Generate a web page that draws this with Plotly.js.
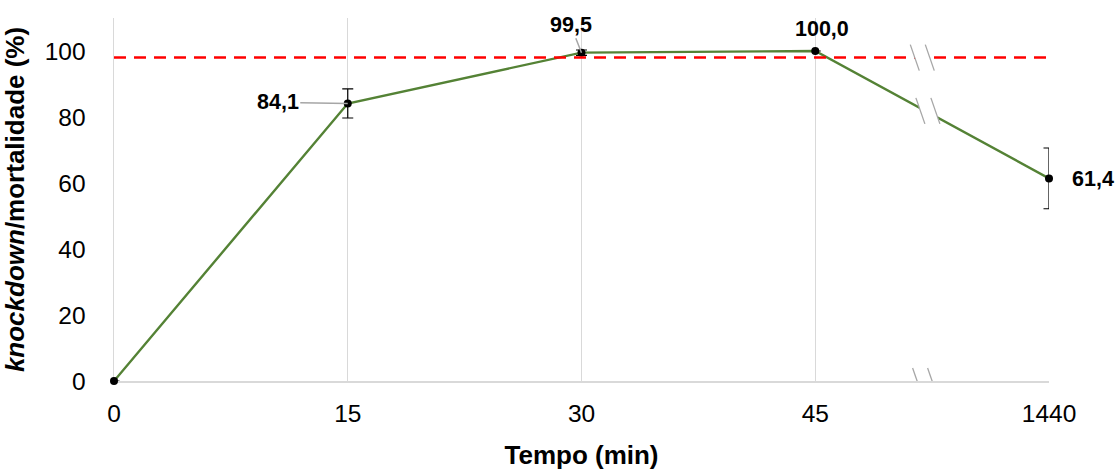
<!DOCTYPE html>
<html>
<head>
<meta charset="utf-8">
<script src="https://cdn.plot.ly/plotly-3.0.1.min.js"></script>
<style>html,body{margin:0;padding:0;background:#fff;}#chart{width:1118px;height:475px;}</style>
</head>
<body>
<div id="chart"></div>
<script>
const categories = ["0", "15", "30", "45", "1440"];
const values = [0, 84.1, 99.5, 100.0, 61.4];
const errors = [0, 4.4, 0.8, 0, 9.2];
const labels = ["", "84,1", "99,5", "100,0", "61,4"];
const threshold = 98;
const yTicks = [0, 20, 40, 60, 80, 100];

const xIdx = categories.map((c, i) => i);
const breakX = 3.47;
const lineAtBreak = values[3] + (values[4] - values[3]) * (breakX - 3);

const trace = {
  x: xIdx, y: values, type: "scatter", mode: "lines+markers",
  line: {color: "#548235", width: 2.4},
  marker: {color: "#000", size: 8},
  error_y: {type: "data", array: errors, visible: true, color: "#000", thickness: 1.2, width: 5.5},
  cliponaxis: false, hoverinfo: "skip"
};

const FAM = "Liberation Sans, Arial, sans-serif";
const lblFont = {family: FAM, size: 21.5, color: "#000"};
const annotations = [
  {x: xIdx[1], y: values[1], text: "<b>" + labels[1] + "</b>", showarrow: true, arrowhead: 0, arrowcolor: "#a6a6a6", arrowwidth: 1.5, ax: -70, ay: -1, font: lblFont},
  {x: xIdx[2], y: values[2], text: "<b>" + labels[2] + "</b>", showarrow: true, arrowhead: 0, arrowcolor: "#a6a6a6", arrowwidth: 1.5, ax: -11, ay: -28, font: lblFont},
  {x: xIdx[3], y: values[3], text: "<b>" + labels[3] + "</b>", showarrow: false, xshift: 7, yshift: 22, font: lblFont},
  {x: xIdx[4], y: values[4], text: "<b>" + labels[4] + "</b>", showarrow: false, xshift: 44, yshift: -1, font: lblFont}
];

function breakShapes(xc, yc) {
  const base = {xref: "x", yref: "y", xsizemode: "pixel", ysizemode: "pixel", xanchor: xc, yanchor: yc, layer: "above"};
  return [
    Object.assign({}, base, {type: "path", path: "M-12.5,13 L2.5,13 L11.5,-13 L-3.5,-13 Z", fillcolor: "#fff", line: {width: 0}}),
    Object.assign({}, base, {type: "path", path: "M-12.5,13 L-3.5,-13", line: {color: "#a6a6a6", width: 1.3}}),
    Object.assign({}, base, {type: "path", path: "M2.5,13 L11.5,-13", line: {color: "#a6a6a6", width: 1.3}})
  ];
}

const shapes = [
  {type: "line", xref: "paper", yref: "y", x0: 0, x1: 1, y0: threshold, y1: threshold, line: {color: "#ff0000", width: 2.5, dash: "12px,8px"}, layer: "above"}
].concat(breakShapes(breakX - 0.01, threshold))
 .concat(breakShapes(breakX + 0.014, lineAtBreak))
 .concat(breakShapes(breakX, 0));

const tickFont = {family: FAM, size: 24.5, color: "#000"};
const layout = {
  width: 1118, height: 475,
  margin: {l: 114, r: 69, t: 18, b: 94},
  paper_bgcolor: "#fff", plot_bgcolor: "#fff",
  showlegend: false,
  xaxis: {
    range: [0, 4], tickvals: xIdx, ticktext: categories, layer: "below traces",
    showgrid: true, gridcolor: "#d9d9d9", gridwidth: 1,
    zeroline: false, showline: true, linecolor: "#d9d9d9", linewidth: 1.5,
    ticks: "", tickfont: tickFont, ticklabelstandoff: 10,
    title: {text: "<b>Tempo (min)</b>", font: {family: FAM, size: 26, color: "#000"}, standoff: 20}
  },
  yaxis: {
    range: [0, 110], tickvals: yTicks, ticktext: yTicks.map(String), layer: "below traces",
    showgrid: false, zeroline: false, showline: true, linecolor: "#d9d9d9", linewidth: 1.5,
    ticks: "", tickfont: tickFont, ticklabelstandoff: 22,
    title: {text: "<b><i>knockdown</i>/mortalidade (%)</b>", font: {family: FAM, size: 26, color: "#000"}, standoff: 14}
  },
  annotations: annotations,
  shapes: shapes
};

Plotly.newPlot("chart", [trace], layout, {displayModeBar: false, staticPlot: true});
</script>
</body>
</html>
